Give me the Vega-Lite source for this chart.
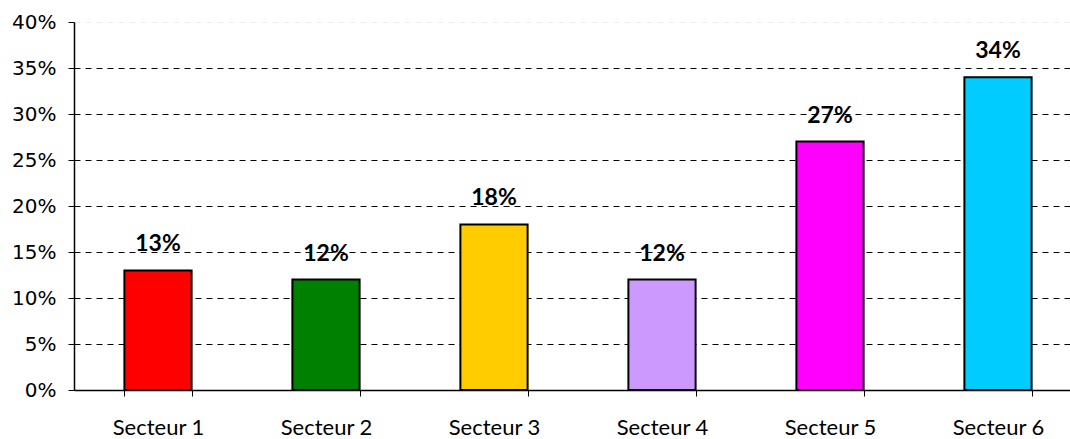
{
  "$schema": "https://vega.github.io/schema/vega-lite/v6.json",
  "autosize": {"type": "none"},
  "width": 1008,
  "height": 368,
  "padding": {"left": 74, "top": 22, "right": 0, "bottom": 49},
  "background": "white",
  "config": {"view": {"stroke": null}},
  "data": {"values": [
    {"secteur": "Secteur 1", "value": 0.13, "color": "#FF0000"},
    {"secteur": "Secteur 2", "value": 0.12, "color": "#008000"},
    {"secteur": "Secteur 3", "value": 0.18, "color": "#FFCC00"},
    {"secteur": "Secteur 4", "value": 0.12, "color": "#CC99FF"},
    {"secteur": "Secteur 5", "value": 0.27, "color": "#FF00FF"},
    {"secteur": "Secteur 6", "value": 0.34, "color": "#00CCFF"}
  ]},
  "encoding": {
    "x": {"field": "secteur", "type": "nominal", "sort": null,
      "scale": {"paddingInner": 0.6, "paddingOuter": 0.3},
      "axis": {"title": null, "labelAngle": 0, "domainColor": "black", "domainWidth": 1.5,
        "tickColor": "black", "tickBand": "extent", "tickSize": 6, "labelPadding": 21,
        "labelFont": "Lato", "labelFontSize": 22, "labelColor": "black"}},
    "y": {"field": "value", "type": "quantitative",
      "scale": {"domain": [0, 0.4], "nice": false},
      "axis": {"title": null, "format": ".0%", "values": [0,0.05,0.1,0.15,0.2,0.25,0.3,0.35,0.4],
        "labelOverlap": false, "labelFlush": false,
        "domainColor": "black", "domainWidth": 1.5, "tickColor": "black", "tickSize": 6,
        "labelPadding": 12, "labelFont": "DejaVu Sans", "labelFontSize": 20, "labelColor": "black",
        "gridDash": [6, 5], "gridWidth": 1.2,
        "gridColor": {"condition": {"test": "datum.value >= 0.4", "value": "#eeeeee"}, "value": "black"}}}
  },
  "layer": [
    {"mark": {"type": "bar", "stroke": "black", "strokeWidth": 2},
      "encoding": {"color": {"field": "color", "type": "nominal", "scale": null}}},
    {"mark": {"type": "text", "dy": -19, "baseline": "alphabetic", "font": "Lato", "fontWeight": "bold", "fontSize": 23, "color": "black"},
      "encoding": {"text": {"field": "value", "type": "quantitative", "format": ".0%"}}}
  ]
}
